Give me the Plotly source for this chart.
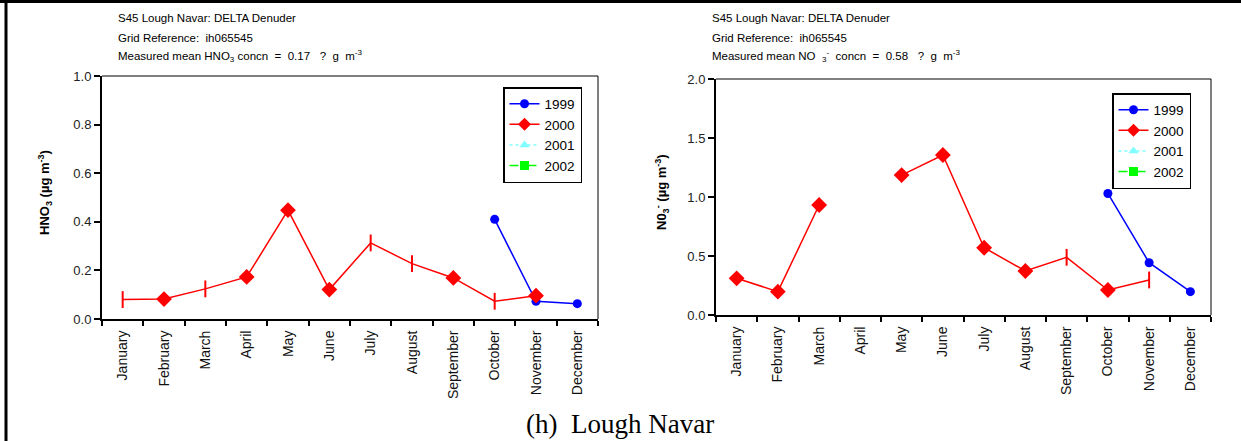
import plotly.graph_objects as go

months = ["January", "February", "March", "April", "May", "June", "July",
          "August", "September", "October", "November", "December"]

# HNO3 (left panel)
hno3_1999 = [None, None, None, None, None, None, None, None, None, 0.41, 0.073, 0.063]
hno3_2000 = [0.08, 0.082, 0.124, 0.173, 0.448, 0.121, 0.313, 0.228, 0.169, 0.073, 0.096, None]
# True = full-capture point (diamond), False = partial (tick)
hno3_2000_full = [False, True, False, True, True, True, False, False, True, False, True, None]

# NO3- (right panel)
no3_1999 = [None, None, None, None, None, None, None, None, None, 1.03, 0.443, 0.198]
no3_2000 = [0.311, 0.198, 0.932, None, 1.186, 1.356, 0.57, 0.373, 0.489, 0.212, 0.297, None]
no3_2000_full = [True, True, True, None, True, True, True, True, False, True, False, None]

years = ["1999", "2000", "2001", "2002"]

W, H = 1241, 441
BLUE, RED, CYAN, GREEN = "#0000FF", "#FF0000", "#7FFFFF", "#00FF00"
FONT = "Arial, Liberation Sans, sans-serif"
NB = "\u00a0"

fig = go.Figure()


def add_panel(fig, xa, ya, legend, v1999, v2000, full2000):
    fig.add_trace(go.Scatter(x=months, y=v1999, mode="lines+markers", xaxis=xa, yaxis=ya,
                             line=dict(color=BLUE, width=1.5),
                             marker=dict(symbol="circle", size=9, color=BLUE, opacity=1),
                             showlegend=False, connectgaps=False))
    fig.add_trace(go.Scatter(x=months, y=v2000, mode="lines", xaxis=xa, yaxis=ya,
                             line=dict(color=RED, width=1.5),
                             showlegend=False, connectgaps=False))
    syms = [("diamond" if f else "line-ns-open") if f is not None else "circle" for f in full2000]
    sizes = [(10 if f else 12) if f is not None else 0 for f in full2000]
    fig.add_trace(go.Scatter(x=months, y=v2000, mode="markers", xaxis=xa, yaxis=ya,
                             marker=dict(symbol=syms, size=sizes, color=RED, opacity=1,
                                         line=dict(color=RED, width=2)),
                             showlegend=False))
    styles = [
        (BLUE, "solid", "circle", 9),
        (RED, "solid", "diamond", 10),
        (CYAN, "dot", "triangle-up", 9),
        (GREEN, "dash", "square", 9),
    ]
    for yr, (c, d, s, sz) in zip(years, styles):
        fig.add_trace(go.Scatter(x=[None], y=[None], mode="lines+markers", name=yr,
                                 xaxis=xa, yaxis=ya, legend=legend,
                                 line=dict(color=c, width=1.5, dash=d),
                                 marker=dict(symbol=s, size=sz, color=c)))


add_panel(fig, "x", "y", "legend", hno3_1999, hno3_2000, hno3_2000_full)
add_panel(fig, "x2", "y2", "legend2", no3_1999, no3_2000, no3_2000_full)

xcommon = dict(type="category", categoryorder="array", categoryarray=months,
               range=[-0.5, 11.5], tickangle=-90, tickson="boundaries",
               ticks="outside", ticklen=5, tickwidth=1.5, tickcolor="black",
               showline=True, linewidth=2, linecolor="black", showgrid=False,
               zeroline=False, automargin=False, ticklabelstandoff=4,
               tickfont=dict(family=FONT, size=14, color="#111"))
ycommon = dict(ticks="outside", ticklen=6, tickwidth=1.5, tickcolor="black",
               showline=True, linewidth=2, linecolor="black", showgrid=False,
               zeroline=False, automargin=False,
               tickfont=dict(family=FONT, size=13, color="#222"))


def px_x(p):
    return p / W


def px_y(p):
    return 1 - p / H


fig.update_layout(
    width=W, height=H, autosize=False,
    margin=dict(l=0, r=0, t=0, b=0, pad=0, autoexpand=False),
    paper_bgcolor="white", plot_bgcolor="white",
    font=dict(family=FONT, color="black"),
    xaxis=dict(xcommon, domain=[px_x(102), px_x(598)], anchor="y"),
    yaxis=dict(ycommon, domain=[px_y(319), px_y(76)], anchor="x",
               range=[0, 1.0], tickvals=[0, 0.2, 0.4, 0.6, 0.8, 1.0], tickformat=".1f"),
    xaxis2=dict(xcommon, domain=[px_x(716), px_x(1211)], anchor="y2"),
    yaxis2=dict(ycommon, domain=[px_y(315), px_y(79)], anchor="x2",
                range=[0, 2.0], tickvals=[0, 0.5, 1.0, 1.5, 2.0], tickformat=".1f"),
    legend=dict(x=px_x(503), y=px_y(87), xanchor="left", yanchor="top",
                bordercolor="black", borderwidth=1.5, bgcolor="white",
                font=dict(family=FONT, size=13.5), tracegroupgap=0,
                itemwidth=30),
    legend2=dict(x=px_x(1112), y=px_y(93), xanchor="left", yanchor="top",
                 bordercolor="black", borderwidth=1.5, bgcolor="white",
                 font=dict(family=FONT, size=13.5), tracegroupgap=0,
                 itemwidth=30),
)

shapes = []
for xr, yr in (("x domain", "y domain"), ("x2 domain", "y2 domain")):
    shapes.append(dict(type="line", xref=xr, yref=yr, x0=0, x1=1, y0=1, y1=1,
                       line=dict(color="black", width=1)))
    shapes.append(dict(type="line", xref=xr, yref=yr, x0=1, x1=1, y0=0, y1=1,
                       line=dict(color="black", width=1)))
shapes.append(dict(type="line", xref="paper", yref="paper", x0=px_x(6), x1=px_x(6),
                   y0=0, y1=1, line=dict(color="black", width=3)))
shapes.append(dict(type="line", xref="paper", yref="paper", x0=0, x1=1,
                   y0=px_y(1.5), y1=px_y(1.5), line=dict(color="black", width=3)))
fig.update_layout(shapes=shapes)

ann = []
left_lines = ["S45 Lough Navar: DELTA Denuder",
              "Grid Reference:" + NB * 2 + "ih065545",
              "Measured mean HNO<sub>3</sub> concn" + NB * 2 + "=" + NB * 2 + "0.17" + NB * 3 + "?"
              + NB * 2 + "g" + NB * 2 + "m<sup>-3</sup>"]
right_lines = ["S45 Lough Navar: DELTA Denuder",
               "Grid Reference:" + NB * 2 + "ih065545",
               "Measured mean NO" + NB * 2 + "<sub>3</sub><sup>-</sup>" + NB * 2 + "concn" + NB * 2 + "="
               + NB * 2 + "0.58" + NB * 3 + "?" + NB * 2 + "g" + NB * 2 + "m<sup>-3</sup>"]
for i, (lt, rt) in enumerate(zip(left_lines, right_lines)):
    yy = [18, 38, 56][i]
    ann.append(dict(text=lt, x=px_x(116), y=px_y(yy), xref="paper", yref="paper",
                    xanchor="left", yanchor="middle", showarrow=False,
                    font=dict(family=FONT, size=11.5, color="black")))
    ann.append(dict(text=rt, x=px_x(710), y=px_y(yy), xref="paper", yref="paper",
                    xanchor="left", yanchor="middle", showarrow=False,
                    font=dict(family=FONT, size=11.5, color="black")))

ann.append(dict(text="<b>HNO<sub>3</sub> (µg m<sup>-3</sup>)</b>", x=px_x(45), y=px_y(193),
                xref="paper", yref="paper", textangle=-90, showarrow=False,
                xanchor="center", yanchor="middle",
                font=dict(family=FONT, size=13, color="black")))
ann.append(dict(text="<b>N0<sub>3</sub><sup>-</sup> (µg m<sup>-3</sup>)</b>", x=px_x(662), y=px_y(192),
                xref="paper", yref="paper", textangle=-90, showarrow=False,
                xanchor="center", yanchor="middle",
                font=dict(family=FONT, size=13, color="black")))
ann.append(dict(text="(h)" + NB * 2 + "Lough Navar", x=px_x(620), y=px_y(424),
                xref="paper", yref="paper", showarrow=False,
                xanchor="center", yanchor="middle",
                font=dict(family="Liberation Serif, Times New Roman, serif", size=27, color="black")))
fig.update_layout(annotations=ann)

post = (
    "document.documentElement.style.cssText='margin:0;padding:0;overflow:hidden;height:441px;';"
    "document.body.style.cssText='margin:0;padding:0;overflow:hidden;height:441px;';"
    "var gd=document.getElementById('{plot_id}');"
    "gd.style.position='fixed';gd.style.top='0px';gd.style.left='0px';"
)
fig.write_html("out.html", config={"displayModeBar": False}, post_script=post)
